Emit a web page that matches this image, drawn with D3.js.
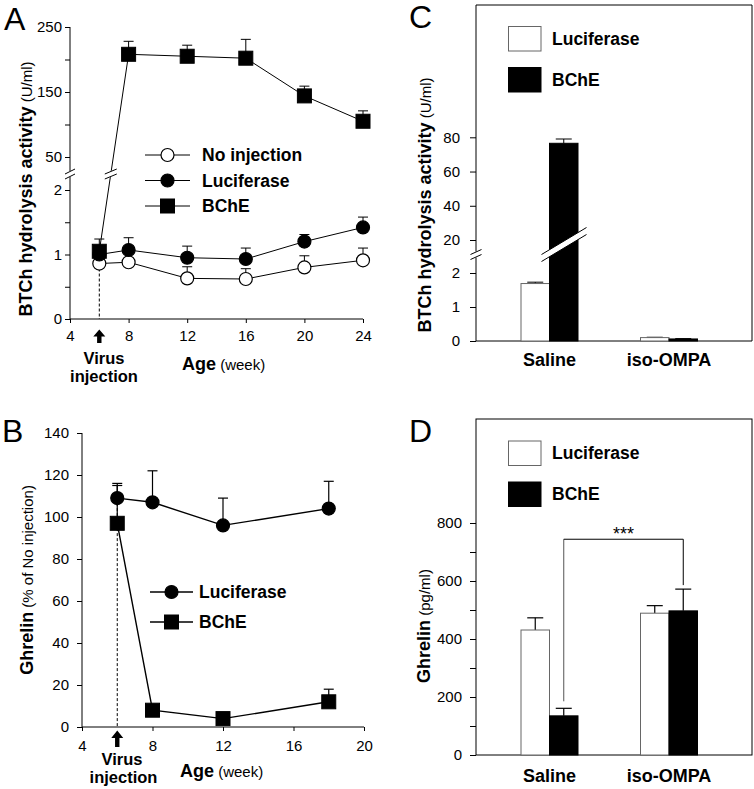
<!DOCTYPE html>
<html><head><meta charset="utf-8">
<script src="https://cdn.jsdelivr.net/npm/d3@7"></script>
<style>body{margin:0;background:#fff} svg{display:block}</style>
</head><body>
<svg id="chart" width="754" height="789"></svg>
<script>
// ---------- DATA ----------
// Panel A: BTCh hydrolysis activity (U/ml) vs age (week)
const weeksA = [6, 8, 12, 16, 20, 24];
const noInjectionA = [0.86, 0.88, 0.63, 0.62, 0.80, 0.91];
const noInjectionErrA = [0.04, 0.04, 0.18, 0.16, 0.18, 0.19];
const luciferaseA = [1.00, 1.07, 0.95, 0.93, 1.20, 1.42];
const luciferaseErrA = [0.05, 0.19, 0.18, 0.17, 0.11, 0.16];
const bcheA = [1.05, 208, 205, 202, 144, 105];
const bcheErrA = [0.19, 20, 17, 29, 15, 16];
const xTicksA = [4, 8, 12, 16, 20, 24];
const yTicksALow = [0, 0.5, 1, 1.5, 2];
const yTicksAHigh = [50, 100, 150, 200, 250];

// Panel B: Ghrelin (% of No injection) vs age (week)
const weeksB = [6, 8, 12, 18];
const luciferaseB = [109, 107, 96, 104];
const luciferaseErrB = [7, 15, 13, 13];
const bcheB = [97, 8, 4, 12];
const bcheErrB = [18, 0, 0, 6];
const xTicksB = [4, 8, 12, 16, 20];
const yTicksB = [0, 20, 40, 60, 80, 100, 120, 140];

// Panel C: BTCh hydrolysis activity (U/ml) by treatment
const groupsC = ["Saline", "iso-OMPA"];
const luciferaseC = [1.69, 0.10];
const luciferaseErrC = [0.04, 0.01];
const bcheC = [76.5, 0.06];
const bcheErrC = [2.5, 0.01];
const yTicksCLow = [0, 1, 2];
const yTicksCHigh = [20, 40, 60, 80];

// Panel D: Ghrelin (pg/ml) by treatment
const groupsD = ["Saline", "iso-OMPA"];
const luciferaseD = [431, 489];
const luciferaseErrD = [42, 26];
const bcheD = [135, 497];
const bcheErrD = [26, 75];
const yTicksD = [0, 100, 200, 300, 400, 500, 600, 700, 800];
const sigLevelD = 744;
const sigLabelD = "***";

const seriesNames = ["Luciferase", "BChE"];
const FONT = "'Liberation Sans', Arial, Helvetica, sans-serif";

// ---------- HELPERS ----------
const svg = d3.select("#chart").attr("font-family", FONT);

function styleAxis(g, size) {
  g.selectAll("text").attr("font-size", size).attr("font-family", FONT).attr("fill", "#000");
  g.selectAll("line").attr("stroke", "#000").attr("stroke-width", 1);
  g.select(".domain").remove();
}
function errBar(g, x, y0, y1, cap, sw) {
  g.append("line").attr("x1", x).attr("x2", x).attr("y1", y0).attr("y2", y1)
    .attr("stroke", "#000").attr("stroke-width", sw || 1);
  g.append("line").attr("x1", x - cap / 2).attr("x2", x + cap / 2).attr("y1", y1).attr("y2", y1)
    .attr("stroke", "#000").attr("stroke-width", sw || 1);
}
function marker(g, type, fill, x, y) {
  if (type === "circle") {
    g.append("circle").attr("cx", x).attr("cy", y).attr("r", 6.5)
      .attr("fill", fill).attr("stroke", "#000").attr("stroke-width", 1.2);
  } else {
    g.append("rect").attr("x", x - 7).attr("y", y - 7).attr("width", 14).attr("height", 14)
      .attr("fill", fill).attr("stroke", "#000").attr("stroke-width", 1);
  }
}
function arrowUp(g, x, top, headBase, bottom) {
  g.append("path")
    .attr("d", `M${x},${top} L${x + 6},${headBase} L${x + 2.2},${headBase} L${x + 2.2},${bottom} L${x - 2.2},${bottom} L${x - 2.2},${headBase} L${x - 6},${headBase} Z`)
    .attr("fill", "#000");
}
function yLabel(g, x, y, bold, normal, bsize, nsize) {
  const t = g.append("text").attr("transform", `translate(${x},${y}) rotate(-90)`)
    .attr("text-anchor", "middle");
  t.append("tspan").attr("font-weight", "bold").attr("font-size", bsize).text(bold);
  t.append("tspan").attr("font-size", nsize).text(" " + normal);
}
function slash(g, x, y, w, h) {
  g.append("line").attr("x1", x - w / 2).attr("y1", y + h / 2).attr("x2", x + w / 2).attr("y2", y - h / 2)
    .attr("stroke", "#000").attr("stroke-width", 1);
}

// ---------- PANEL A ----------
(function () {
  const g = svg.append("g");
  const x = d3.scaleLinear().domain([4, 24]).range([70, 363]);
  const yLow = d3.scaleLinear().domain([0, 2]).range([319, 190]);
  const yHigh = d3.scaleLinear().domain([50, 250]).range([157, 27]);
  const y = v => (v <= 10 ? yLow(v) : yHigh(v));
  const brk = 174;

  const axL = g.append("g").attr("transform", "translate(70,0)")
    .call(d3.axisLeft(yLow).tickValues(yTicksALow).tickSize(5).tickPadding(3)
      .tickFormat(d => (Number.isInteger(d) ? d : "")));
  styleAxis(axL, 15);
  const axH = g.append("g").attr("transform", "translate(70,0)")
    .call(d3.axisLeft(yHigh).tickValues(yTicksAHigh).tickSize(5).tickPadding(3)
      .tickFormat(d => (d % 100 === 50 ? d : "")));
  styleAxis(axH, 15);
  g.append("line").attr("x1", 70).attr("x2", 70).attr("y1", 319).attr("y2", brk + 3).attr("stroke", "#000");
  g.append("line").attr("x1", 70).attr("x2", 70).attr("y1", brk - 3).attr("y2", 27).attr("stroke", "#000");
  slash(g, 70, brk - 2.5, 10, 5); slash(g, 70, brk + 2.5, 10, 5);

  const axB = g.append("g").attr("transform", "translate(0,319)")
    .call(d3.axisBottom(x).tickValues(xTicksA).tickSize(4).tickPadding(7).tickSizeOuter(0));
  styleAxis(axB, 15);
  g.append("line").attr("x1", 70).attr("x2", 363).attr("y1", 319).attr("y2", 319).attr("stroke", "#000");

  g.append("line").attr("x1", x(6)).attr("x2", x(6)).attr("y1", y(noInjectionA[0])).attr("y2", 319)
    .attr("stroke", "#000").attr("stroke-dasharray", "3,2");

  const line = d3.line().x(d => x(d[0])).y(d => y(d[1]));
  const series = [
    { v: noInjectionA, e: noInjectionErrA, type: "circle", fill: "#fff" },
    { v: luciferaseA, e: luciferaseErrA, type: "circle", fill: "#000" },
    { v: bcheA, e: bcheErrA, type: "square", fill: "#000" }
  ];
  series.forEach(s => {
    g.append("path").datum(weeksA.map((w, i) => [w, s.v[i]])).attr("d", line)
      .attr("fill", "none").attr("stroke", "#000").attr("stroke-width", 1);
  });
  const xb = x(6) + (x(8) - x(6)) * (y(bcheA[0]) - brk) / (y(bcheA[0]) - y(bcheA[1]));
  g.append("polygon").attr("points", `${xb - 6},${brk + 5.5} ${xb + 6},${brk + 0.5} ${xb + 6},${brk - 5.5} ${xb - 6},${brk - 0.5}`).attr("fill", "#fff");
  slash(g, xb, brk - 2.5, 12, 5); slash(g, xb, brk + 2.5, 12, 5);

  series.forEach(s => {
    weeksA.forEach((w, i) => { if (s.e[i] > 0) errBar(g, x(w), y(s.v[i]), y(s.v[i] + s.e[i]), 10); });
  });
  series.forEach(s => {
    weeksA.forEach((w, i) => marker(g, s.type, s.fill, x(w), y(s.v[i])));
  });

  const leg = [["No injection", "circle", "#fff"], ["Luciferase", "circle", "#000"], ["BChE", "square", "#000"]];
  leg.forEach((l, i) => {
    const ly = 155 + i * 25.5;
    g.append("line").attr("x1", 145).attr("x2", 190).attr("y1", ly).attr("y2", ly).attr("stroke", "#000");
    marker(g, l[1], l[2], 167.5, ly);
    g.append("text").attr("x", 202).attr("y", ly).attr("dy", "0.36em").attr("font-weight", "bold")
      .attr("font-size", 17.5).text(l[0]);
  });

  yLabel(g, 32, 189, "BTCh hydrolysis activity", "(U/ml)", 18, 15);
  arrowUp(g, x(6), 329.5, 336.5, 343);
  g.append("text").attr("x", 104).attr("y", 364).attr("text-anchor", "middle").attr("font-weight", "bold").attr("font-size", 16.5).text("Virus");
  g.append("text").attr("x", 104).attr("y", 382).attr("text-anchor", "middle").attr("font-weight", "bold").attr("font-size", 16.5).text("injection");
  const age = g.append("text").attr("x", 182).attr("y", 370);
  age.append("tspan").attr("font-weight", "bold").attr("font-size", 18).text("Age");
  age.append("tspan").attr("font-size", 15).text(" (week)");
  g.append("text").attr("x", 4).attr("y", 30).attr("font-size", 32).text("A");
})();

// ---------- PANEL B ----------
(function () {
  const g = svg.append("g");
  const x = d3.scaleLinear().domain([4, 20]).range([82, 364]);
  const y = d3.scaleLinear().domain([0, 140]).range([727, 433]);

  const axL = g.append("g").attr("transform", "translate(82,0)")
    .call(d3.axisLeft(y).tickValues(yTicksB).tickSize(5).tickPadding(8).tickSizeOuter(0));
  styleAxis(axL, 15);
  g.append("line").attr("x1", 82).attr("x2", 82).attr("y1", 727).attr("y2", 433).attr("stroke", "#000");
  const axB = g.append("g").attr("transform", "translate(0,727)")
    .call(d3.axisBottom(x).tickValues(xTicksB).tickSize(4).tickPadding(9).tickSizeOuter(0));
  styleAxis(axB, 15);
  g.append("line").attr("x1", 82).attr("x2", 364).attr("y1", 727).attr("y2", 727).attr("stroke", "#000");

  g.append("line").attr("x1", x(6)).attr("x2", x(6)).attr("y1", y(luciferaseB[0])).attr("y2", 727)
    .attr("stroke", "#000").attr("stroke-dasharray", "3,2");

  const line = d3.line().x(d => x(d[0])).y(d => y(d[1]));
  const series = [
    { v: luciferaseB, e: luciferaseErrB, type: "circle", fill: "#000" },
    { v: bcheB, e: bcheErrB, type: "square", fill: "#000" }
  ];
  series.forEach(s => {
    g.append("path").datum(weeksB.map((w, i) => [w, s.v[i]])).attr("d", line)
      .attr("fill", "none").attr("stroke", "#000").attr("stroke-width", 1.4);
  });
  series.forEach(s => {
    weeksB.forEach((w, i) => { if (s.e[i] > 0) errBar(g, x(w), y(s.v[i]), y(s.v[i] + s.e[i]), 10, 1.2); });
  });
  series.forEach(s => {
    weeksB.forEach((w, i) => marker(g, s.type, s.fill, x(w), y(s.v[i])));
  });

  const leg = [["Luciferase", "circle"], ["BChE", "square"]];
  leg.forEach((l, i) => {
    const ly = 592 + i * 30;
    g.append("line").attr("x1", 150).attr("x2", 193).attr("y1", ly).attr("y2", ly).attr("stroke", "#000").attr("stroke-width", 1.4);
    marker(g, l[1], "#000", 171.5, ly);
    g.append("text").attr("x", 199).attr("y", ly).attr("dy", "0.36em").attr("font-weight", "bold")
      .attr("font-size", 17.5).text(l[0]);
  });

  yLabel(g, 33, 580, "Ghrelin", "(% of No injection)", 18, 15);
  arrowUp(g, x(6), 730.5, 738, 747);
  g.append("text").attr("x", 122).attr("y", 764.5).attr("text-anchor", "middle").attr("font-weight", "bold").attr("font-size", 16.5).text("Virus");
  g.append("text").attr("x", 123.5).attr("y", 782.5).attr("text-anchor", "middle").attr("font-weight", "bold").attr("font-size", 16.5).text("injection");
  const age = g.append("text").attr("x", 180).attr("y", 776.5);
  age.append("tspan").attr("font-weight", "bold").attr("font-size", 18).text("Age");
  age.append("tspan").attr("font-size", 15).text(" (week)");
  g.append("text").attr("x", 2).attr("y", 442).attr("font-size", 32).text("B");
})();

function barLegend(g, y0) {
  seriesNames.forEach((n, i) => {
    const yy = y0 + i * 41;
    g.append("rect").attr("x", 508.5).attr("y", yy - 12).attr("width", 32.5).attr("height", 24.5)
      .attr("fill", i === 0 ? "#fff" : "#000").attr("stroke", i === 0 ? "#666" : "#000");
    g.append("text").attr("x", 552).attr("y", yy).attr("dy", "0.36em").attr("font-weight", "bold")
      .attr("font-size", 17.5).text(n);
  });
}

// ---------- PANEL C ----------
(function () {
  const g = svg.append("g");
  const left = 476, right = 752, top = 5, bottom = 341;
  const xg = d3.scaleBand().domain(groupsC).range([489.75, 728.75]);
  const xs = d3.scaleBand().domain(seriesNames).range([-28.5, 28.5]);
  const yLow = d3.scaleLinear().domain([0, 2]).range([341, 273]);
  const yHigh = d3.scaleLinear().domain([20, 80]).range([240, 137.3]);
  const y = v => (v <= 10 ? yLow(v) : yHigh(v));
  const brk = 254.5;

  g.append("line").attr("x1", left).attr("x2", right).attr("y1", top).attr("y2", top).attr("stroke", "#000");
  g.append("line").attr("x1", right).attr("x2", right).attr("y1", top).attr("y2", bottom).attr("stroke", "#000");
  g.append("line").attr("x1", left).attr("x2", right).attr("y1", bottom).attr("y2", bottom).attr("stroke", "#000");
  g.append("line").attr("x1", left).attr("x2", left).attr("y1", bottom).attr("y2", brk + 3).attr("stroke", "#000");
  g.append("line").attr("x1", left).attr("x2", left).attr("y1", brk - 3).attr("y2", top).attr("stroke", "#000");
  slash(g, left, brk - 2.5, 11, 5); slash(g, left, brk + 2.5, 11, 5);

  const aL = g.append("g").attr("transform", `translate(${left},0)`)
    .call(d3.axisLeft(yLow).tickValues(yTicksCLow).tickSize(6).tickPadding(10).tickFormat(d3.format("d")));
  styleAxis(aL, 15);
  const aH = g.append("g").attr("transform", `translate(${left},0)`)
    .call(d3.axisLeft(yHigh).tickValues(yTicksCHigh).tickSize(6).tickPadding(10).tickFormat(d3.format("d")));
  styleAxis(aH, 15);

  const data = [[luciferaseC, luciferaseErrC], [bcheC, bcheErrC]];
  groupsC.forEach((grp, gi) => {
    data.forEach((d, si) => {
      const cx = xg(grp) + xg.bandwidth() / 2 + xs(seriesNames[si]) + xs.bandwidth() / 2;
      errBar(g, cx, y(d[0][gi]), y(d[0][gi] + d[1][gi]), 16);
    });
  });
  groupsC.forEach((grp, gi) => {
    data.forEach((d, si) => {
      const bx = xg(grp) + xg.bandwidth() / 2 + xs(seriesNames[si]);
      g.append("rect").attr("x", bx).attr("y", y(d[0][gi])).attr("width", xs.bandwidth())
        .attr("height", bottom - y(d[0][gi]))
        .attr("fill", si === 0 ? "#fff" : "#000").attr("stroke", si === 0 ? "#666" : "#000");
    });
  });
  const bx0 = xg("Saline") + xg.bandwidth() / 2 + xs("BChE") - 8;
  const bx1 = bx0 + 45;
  const yc0 = brk + 3.5, yc1 = yc0 - 27;
  g.append("polygon").attr("points", `${bx0},${yc0 + 3.5} ${bx1},${yc1 + 3.5} ${bx1},${yc1 - 3.5} ${bx0},${yc0 - 3.5}`).attr("fill", "#fff");
  g.append("line").attr("x1", bx0).attr("y1", yc0 + 3.5).attr("x2", bx1).attr("y2", yc1 + 3.5).attr("stroke", "#000");
  g.append("line").attr("x1", bx0).attr("y1", yc0 - 3.5).attr("x2", bx1).attr("y2", yc1 - 3.5).attr("stroke", "#000");

  groupsC.forEach(grp => {
    g.append("text").attr("x", xg(grp) + xg.bandwidth() / 2).attr("y", 366).attr("text-anchor", "middle")
      .attr("font-weight", "bold").attr("font-size", 18).text(grp);
  });
  barLegend(g, 38.5);
  yLabel(g, 431, 205, "BTCh hydrolysis activity", "(U/ml)", 18, 15);
  g.append("text").attr("x", 409).attr("y", 28).attr("font-size", 32).text("C");
})();

// ---------- PANEL D ----------
(function () {
  const g = svg.append("g");
  const left = 476, right = 752, top = 419, bottom = 755;
  const xg = d3.scaleBand().domain(groupsD).range([489.75, 728.75]);
  const xs = d3.scaleBand().domain(seriesNames).range([-28.5, 28.5]);
  const y = d3.scaleLinear().domain([0, 800]).range([755, 523]);

  g.append("rect").attr("x", left).attr("y", top).attr("width", right - left).attr("height", bottom - top)
    .attr("fill", "none").attr("stroke", "#000");
  const aL = g.append("g").attr("transform", `translate(${left},0)`)
    .call(d3.axisLeft(y).tickValues(yTicksD).tickSize(6).tickPadding(8)
      .tickFormat(d => (d % 200 === 0 ? d : "")));
  styleAxis(aL, 15);

  const data = [[luciferaseD, luciferaseErrD], [bcheD, bcheErrD]];
  const cx = (grp, si) => xg(grp) + xg.bandwidth() / 2 + xs(seriesNames[si]) + xs.bandwidth() / 2;
  groupsD.forEach((grp, gi) => {
    data.forEach((d, si) => errBar(g, cx(grp, si), y(d[0][gi]), y(d[0][gi] + d[1][gi]), 16, 1.2));
  });
  groupsD.forEach((grp, gi) => {
    data.forEach((d, si) => {
      const bx = xg(grp) + xg.bandwidth() / 2 + xs(seriesNames[si]);
      g.append("rect").attr("x", bx).attr("y", y(d[0][gi])).attr("width", xs.bandwidth())
        .attr("height", bottom - y(d[0][gi]))
        .attr("fill", si === 0 ? "#fff" : "#000").attr("stroke", si === 0 ? "#666" : "#000");
    });
  });

  const xl = cx("Saline", 1), xr = cx("iso-OMPA", 1);
  const ys = y(sigLevelD);
  g.append("line").attr("x1", xl).attr("x2", xl).attr("y1", y(bcheD[0] + bcheErrD[0]) - 7).attr("y2", ys)
    .attr("stroke", "#555").attr("stroke-width", 1);
  g.append("line").attr("x1", xl).attr("x2", xr).attr("y1", ys).attr("y2", ys).attr("stroke", "#000");
  g.append("line").attr("x1", xr).attr("x2", xr).attr("y1", ys).attr("y2", y(bcheD[1] + bcheErrD[1]) - 4)
    .attr("stroke", "#000");
  g.append("text").attr("x", (xl + xr) / 2).attr("y", ys + 1).attr("text-anchor", "middle")
    .attr("font-size", 18).text(sigLabelD);

  groupsD.forEach(grp => {
    g.append("text").attr("x", xg(grp) + xg.bandwidth() / 2).attr("y", 781.5).attr("text-anchor", "middle")
      .attr("font-weight", "bold").attr("font-size", 18).text(grp);
  });
  barLegend(g, 453);
  yLabel(g, 430, 626, "Ghrelin", "(pg/ml)", 18, 15);
  g.append("text").attr("x", 409).attr("y", 442).attr("font-size", 32).text("D");
})();
</script>
</body></html>
